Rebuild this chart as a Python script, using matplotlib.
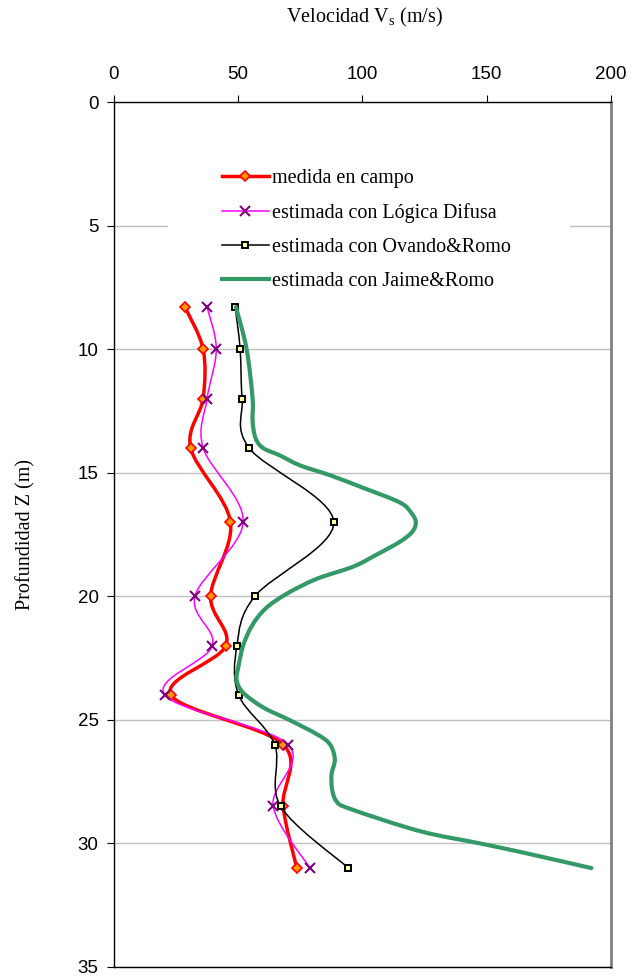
import numpy as np
import matplotlib
matplotlib.use('Agg')
import matplotlib.pyplot as plt
from matplotlib.path import Path
from matplotlib.patches import PathPatch, Rectangle
from matplotlib.lines import Line2D

plt.rcParams['font.family'] = 'Liberation Sans'
plt.rcParams['mathtext.fontset'] = 'custom'
plt.rcParams['mathtext.rm'] = 'Liberation Serif'

# depth of each sample (m) and shear-wave velocity (m/s)
prof = [8.3, 10, 12, 14, 17, 20, 22, 24, 26, 28.5, 31]
vs_campo = [28.6, 35.9, 35.9, 30.9, 46.9, 38.9, 45.0, 23.0, 68.1, 68.1, 73.6]
vs_difusa = [37.5, 41.2, 37.5, 35.9, 52.0, 32.6, 39.6, 20.5, 70.1, 64.1, 78.9]
vs_ovando = [48.8, 50.8, 51.6, 54.4, 88.5, 56.7, 49.5, 50.2, 64.7, 67.1, 94.4]

prof_jaime = [8.3, 10.0, 12.0, 12.9, 13.6, 14.0, 14.3, 14.7, 15.1, 15.6, 16.2, 16.6,
              17.0, 17.4, 17.8, 18.3, 18.8, 19.3, 19.9, 20.5, 21.2, 22.0, 22.9, 23.4,
              23.9, 24.5, 25.0, 25.6, 26.0, 26.6, 27.2, 27.8, 28.3, 28.6, 29.5, 30.0,
              30.4, 31.0]
vs_jaime = [49.1, 53.4, 55.8, 55.8, 57.0, 60.0, 66.8, 74.8, 86.9, 100.0, 115.0, 119.5,
            121.5, 120.0, 115.0, 106.0, 96.3, 81.5, 69.5, 61.0, 55.5, 52.0, 50.0, 49.4,
            52.0, 60.1, 70.5, 82.0, 87.0, 88.9, 87.6, 87.8, 89.6, 95.0, 123.0, 147.3,
            166.0, 192.2]

etiquetas = ['medida en campo', 'estimada con Lógica Difusa',
             'estimada con Ovando&Romo', 'estimada con Jaime&Romo']


def smooth_path(x, y):
    # bezier through the points, same kind of smoothing as a spreadsheet line
    pts = np.column_stack([x, y]).astype(float)
    ext = np.vstack([pts[0], pts, pts[-1]])
    verts = [pts[0]]
    codes = [Path.MOVETO]
    for i in range(len(pts) - 1):
        p0, p1, p2, p3 = ext[i], ext[i + 1], ext[i + 2], ext[i + 3]
        verts += [p1 + (p2 - p0) / 6, p2 - (p3 - p1) / 6, p2]
        codes += [Path.CURVE4] * 3
    return Path(verts, codes)


fig = plt.figure(figsize=(6.33, 9.8), dpi=100)
ax = fig.add_axes([0.180, 0.0133, 0.785, 0.8826])

estilos = [
    dict(color='#FF0000', lw=2.5, marker='D', ms=5.5, mfc='#FF9900', mec='#FF0000', mew=1.2),
    dict(color='#FF00FF', lw=1.1, marker='x', ms=7, mfc='none', mec='#800080', mew=1.5),
    dict(color='#000000', lw=1.1, marker='s', ms=5, mfc='#FFFF99', mec='#000000', mew=1.4),
    dict(color='#339966', lw=3.0, marker=None),
]
series = [(vs_campo, prof), (vs_difusa, prof), (vs_ovando, prof), (vs_jaime, prof_jaime)]

for k, ((xs, ys), st) in enumerate(zip(series, estilos)):
    patch = PathPatch(smooth_path(xs, ys), fill=False, edgecolor=st['color'],
                      lw=st['lw'], capstyle='round', joinstyle='round', zorder=3 + k)
    ax.add_patch(patch)
    if st['marker']:
        ax.plot(xs, ys, ls='none', marker=st['marker'], ms=st['ms'], mfc=st['mfc'],
                mec=st['mec'], mew=st['mew'], zorder=3.5 + k)

ax.set_xlim(0, 200)
ax.set_ylim(35, 0)
ax.set_xticks([0, 50, 100, 150, 200])
ax.set_yticks([0, 5, 10, 15, 20, 25, 30, 35])
ax.xaxis.tick_top()
ax.tick_params(axis='x', top=True, bottom=False, labeltop=True, labelbottom=False,
               direction='out', length=5, pad=9, labelsize=13.5)
ax.tick_params(axis='y', left=True, right=False, direction='out', length=5, pad=6,
               labelsize=13.5)
ax.set_axisbelow(True)
ax.yaxis.grid(True, color='#C0C0C0', linewidth=1)
ax.xaxis.grid(False)

for s in ['left', 'top', 'bottom']:
    ax.spines[s].set_color('black')
    ax.spines[s].set_linewidth(1)
ax.spines['right'].set_color('#808080')
ax.spines['right'].set_linewidth(2)

ax.set_ylabel('Profundidad Z (m)', family='Liberation Serif', fontsize=14.5)
ax.yaxis.set_label_coords(-0.158, 0.5)
fig.text(365 / 633, 1 - 17 / 980, r'Velocidad V$_{\mathrm{s}}$ (m/s)',
         family='Liberation Serif', fontsize=14.5, ha='center', va='center')

# white area behind the legend, it hides the grid line at 5 m
ax.add_patch(Rectangle((0.109, 0.775), 0.808, 0.17, transform=ax.transAxes,
                       facecolor='white', edgecolor='none', zorder=1))

handles = []
for st in estilos:
    handles.append(Line2D([], [], color=st['color'], lw=st['lw'],
                          marker=st['marker'] or 'None', ms=st.get('ms', 0),
                          mfc=st.get('mfc', 'none'), mec=st.get('mec', 'none'),
                          mew=st.get('mew', 0)))
leg = ax.legend(handles, etiquetas, loc='upper left', bbox_to_anchor=(0.2173, 0.9225),
                borderaxespad=0, borderpad=0, handlelength=2.32, handletextpad=0.17,
                labelspacing=0.74, frameon=False,
                prop={'family': 'Liberation Serif', 'size': 14.5})
leg.set_zorder(10)

fig.savefig('out.png', dpi=100)
